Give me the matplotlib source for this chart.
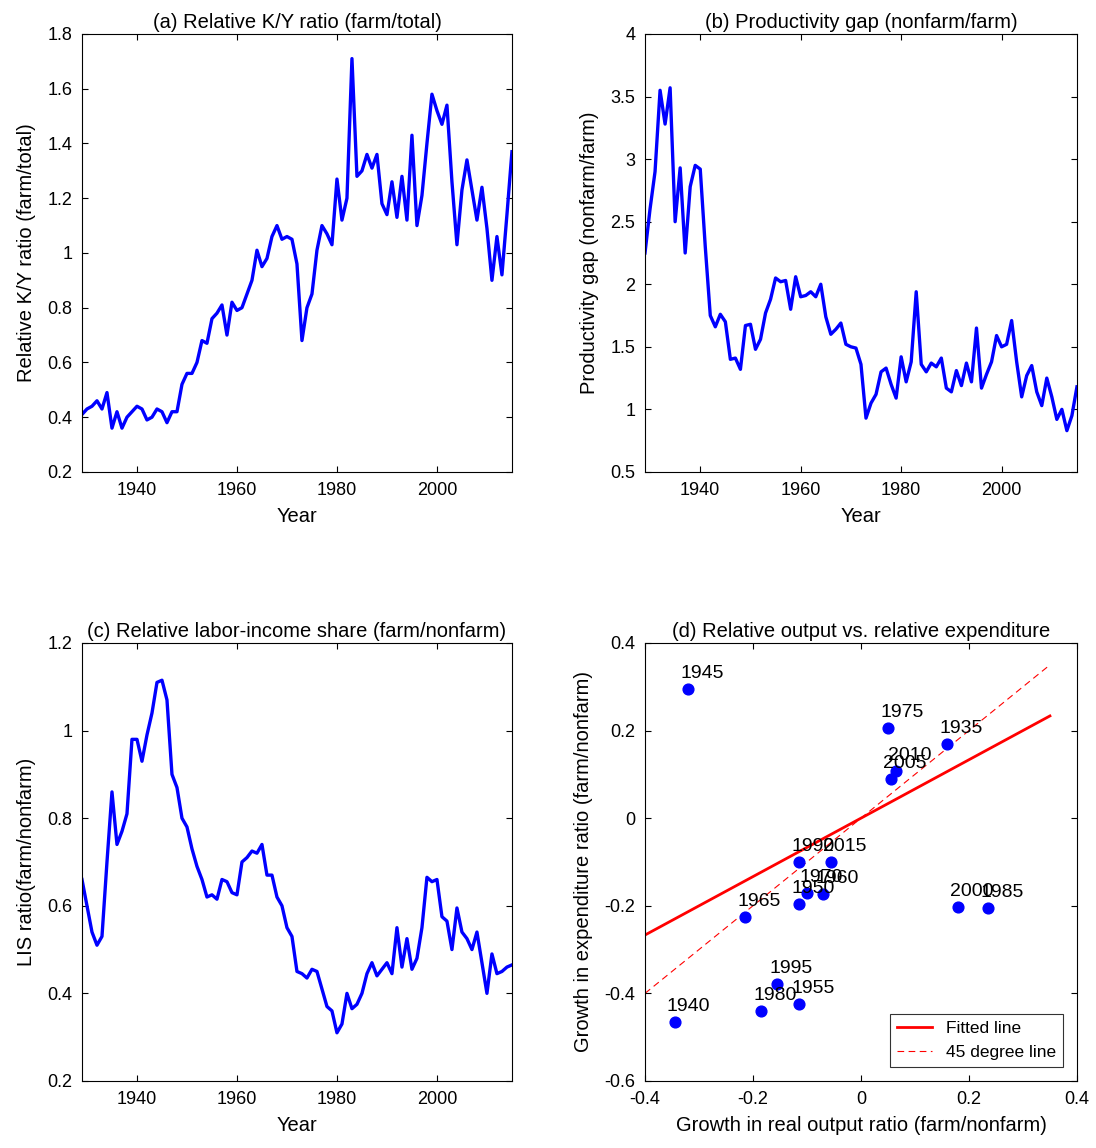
import numpy as np
import matplotlib
matplotlib.use("Agg")
import matplotlib.pyplot as plt

plt.rcParams['font.family'] = ['Liberation Sans', 'DejaVu Sans']
plt.rcParams['font.size'] = 13

years = np.arange(1929, 2016)

ky_ratio = [0.41,
    0.43, 0.44, 0.46, 0.43, 0.49, 0.36, 0.42, 0.36, 0.40, 0.42,
    0.44, 0.43, 0.39, 0.40, 0.43, 0.42, 0.38, 0.42, 0.42, 0.52,
    0.56, 0.56, 0.60, 0.68, 0.67, 0.76, 0.78, 0.81, 0.70, 0.82,
    0.79, 0.80, 0.85, 0.90, 1.01, 0.95, 0.98, 1.06, 1.10, 1.05,
    1.06, 1.05, 0.96, 0.68, 0.80, 0.85, 1.01, 1.10, 1.07, 1.03,
    1.27, 1.12, 1.20, 1.71, 1.28, 1.30, 1.36, 1.31, 1.36, 1.18,
    1.14, 1.26, 1.13, 1.28, 1.12, 1.43, 1.10, 1.21, 1.40, 1.58,
    1.52, 1.47, 1.54, 1.26, 1.03, 1.23, 1.34, 1.23, 1.12, 1.24,
    1.09, 0.90, 1.06, 0.92, 1.14, 1.37]

prod_gap = [2.25,
    2.6, 2.9, 3.55, 3.28, 3.57, 2.5, 2.93, 2.25, 2.78, 2.95,
    2.92, 2.3, 1.75, 1.66, 1.76, 1.7, 1.4, 1.41, 1.32, 1.67,
    1.68, 1.48, 1.56, 1.77, 1.88, 2.05, 2.02, 2.03, 1.8, 2.06,
    1.9, 1.91, 1.94, 1.9, 2.0, 1.74, 1.6, 1.64, 1.69, 1.52,
    1.5, 1.49, 1.36, 0.93, 1.05, 1.12, 1.3, 1.33, 1.2, 1.09,
    1.42, 1.22, 1.38, 1.94, 1.36, 1.3, 1.37, 1.34, 1.41, 1.17,
    1.14, 1.31, 1.19, 1.37, 1.22, 1.65, 1.17, 1.28, 1.38, 1.59,
    1.5, 1.52, 1.71, 1.38, 1.1, 1.27, 1.35, 1.14, 1.03, 1.25,
    1.1, 0.92, 1.0, 0.83, 0.95, 1.18]

lis_ratio = [0.66,
    0.6, 0.54, 0.51, 0.53, 0.7, 0.86, 0.74, 0.77, 0.81, 0.98,
    0.98, 0.93, 0.99, 1.04, 1.11, 1.115, 1.07, 0.9, 0.87, 0.8,
    0.78, 0.73, 0.69, 0.66, 0.62, 0.625, 0.615, 0.66, 0.655, 0.63,
    0.625, 0.7, 0.71, 0.725, 0.72, 0.74, 0.67, 0.67, 0.62, 0.6,
    0.55, 0.53, 0.45, 0.445, 0.435, 0.455, 0.45, 0.41, 0.37, 0.36,
    0.31, 0.33, 0.40, 0.365, 0.375, 0.40, 0.445, 0.47, 0.44, 0.455,
    0.47, 0.445, 0.55, 0.46, 0.525, 0.455, 0.48, 0.55, 0.665, 0.655,
    0.66, 0.575, 0.565, 0.5, 0.595, 0.54, 0.525, 0.5, 0.54, 0.47,
    0.40, 0.49, 0.445, 0.45, 0.46, 0.465]

pt_labels = ['1945', '1975', '1935', '2010', '2005', '1990', '2015', '1970', '1960',
             '1950', '1965', '2000', '1985', '1995', '1955', '1980', '1940']
out_growth = [-0.32, 0.05, 0.16, 0.065, 0.055, -0.115, -0.055, -0.10, -0.07,
              -0.115, -0.215, 0.18, 0.235, -0.155, -0.115, -0.185, -0.345]
exp_growth = [0.295, 0.205, 0.17, 0.108, 0.09, -0.10, -0.10, -0.17, -0.172,
              -0.195, -0.225, -0.202, -0.205, -0.378, -0.425, -0.44, -0.465]

# fitted line as drawn in the reference (estimated over the full sample)
fit_slope = 0.667
fit_intercept = 0.0
line_range = [-0.4, 0.35]

fig = plt.figure(figsize=(10.96, 11.48), dpi=100)
pos = {'a': [0.0748, 0.5889, 0.3923, 0.3815], 'b': [0.5885, 0.5889, 0.3941, 0.3815],
       'c': [0.0748, 0.0584, 0.3923, 0.3815], 'd': [0.5885, 0.0584, 0.3941, 0.3815]}


def style(ax):
    ax.tick_params(direction='in', length=4, top=True, right=True, pad=7)
    for s in ax.spines.values():
        s.set_linewidth(0.8)


def ts_panel(key, vals, ylim, yticks, ylabel, title):
    ax = fig.add_axes(pos[key])
    ax.plot(years, vals, color='blue', lw=2.4)
    ax.set_xlim(1929, 2015)
    ax.set_xticks([1940, 1960, 1980, 2000])
    ax.set_ylim(*ylim)
    ax.set_yticks(yticks)
    ax.set_yticklabels([f'{v:g}' for v in yticks])
    ax.set_xlabel('Year', fontsize=14.5, labelpad=6)
    ax.set_ylabel(ylabel, fontsize=14.5, labelpad=8)
    ax.set_title(title, fontsize=14.5, pad=4)
    style(ax)
    return ax


ts_panel('a', ky_ratio, (0.2, 1.8), np.round(np.arange(0.2, 1.81, 0.2), 1),
         'Relative K/Y ratio (farm/total)', '(a) Relative K/Y ratio (farm/total)')
ts_panel('b', prod_gap, (0.5, 4), np.arange(0.5, 4.01, 0.5),
         'Productivity gap (nonfarm/farm)', '(b) Productivity gap (nonfarm/farm)')
ts_panel('c', lis_ratio, (0.2, 1.2), np.round(np.arange(0.2, 1.21, 0.2), 1),
         'LIS ratio(farm/nonfarm)', '(c) Relative labor-income share (farm/nonfarm)')

ax = fig.add_axes(pos['d'])
ax.scatter(out_growth, exp_growth, s=60, color='blue', zorder=3)
for lab, x, y in zip(pt_labels, out_growth, exp_growth):
    ax.annotate(lab, (x, y), xytext=(10, 5), textcoords='offset points',
                ha='center', va='bottom', fontsize=14)
xl = np.array(line_range)
ax.plot(xl, fit_intercept + fit_slope * xl, color='red', lw=2, label='Fitted line')
ax.plot(xl, xl, color='red', lw=0.8, ls='--', dashes=(6, 4), label='45 degree line')
ax.set_xlim(-0.4, 0.4)
ax.set_ylim(-0.6, 0.4)
ax.set_xticks([-0.4, -0.2, 0, 0.2, 0.4])
ax.set_xticklabels(['-0.4', '-0.2', '0', '0.2', '0.4'])
ax.set_yticks([-0.6, -0.4, -0.2, 0, 0.2, 0.4])
ax.set_yticklabels(['-0.6', '-0.4', '-0.2', '0', '0.2', '0.4'])
ax.set_xlabel('Growth in real output ratio (farm/nonfarm)', fontsize=14.5, labelpad=6)
ax.set_ylabel('Growth in expenditure ratio (farm/nonfarm)', fontsize=14.5, labelpad=8)
ax.set_title('(d) Relative output vs. relative expenditure', fontsize=14.5, pad=4)
leg = ax.legend(loc='lower right', fontsize=12.5, fancybox=False, edgecolor='black',
                borderaxespad=0.8)
leg.get_frame().set_linewidth(0.8)
style(ax)

fig.savefig('out.png', dpi=100)
